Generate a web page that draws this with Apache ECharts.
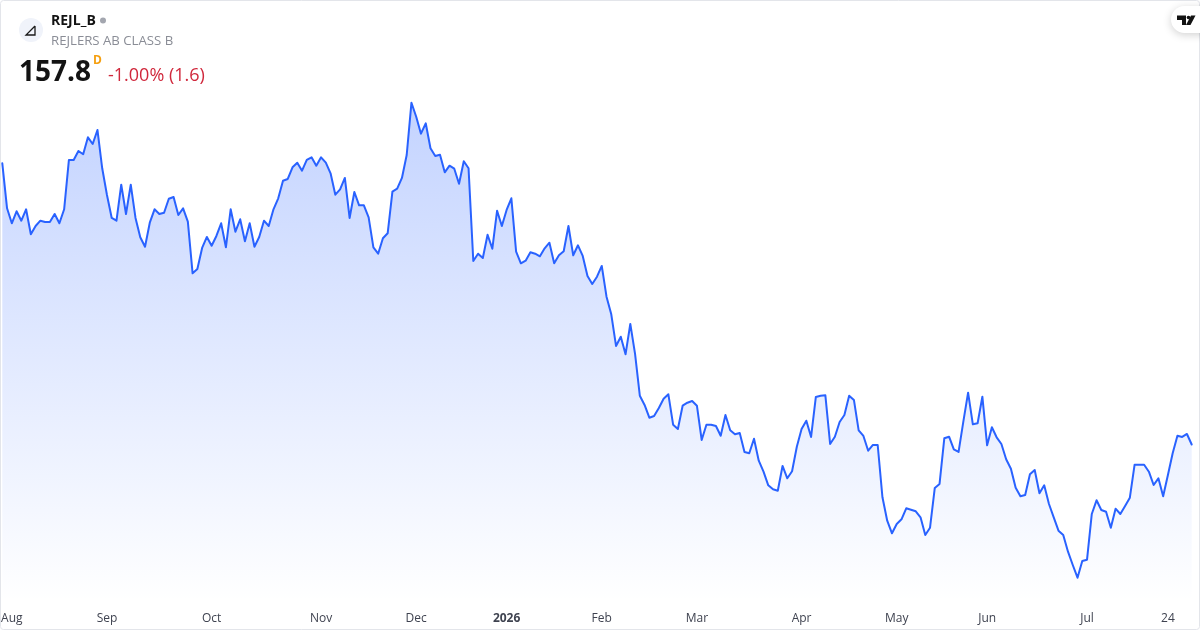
<!DOCTYPE html>
<html><head><meta charset="utf-8">
<style>
html,body{margin:0;padding:0;background:#fff;overflow:hidden}
#c{width:1200px;height:630px}
</style>
<script src="https://cdn.jsdelivr.net/npm/echarts@6/dist/echarts.min.js"></script>
</head><body><div id="c"></div>
<script>
const prices = [
199.98,193.23,190.98,192.78,191.37,193.08,189.33,190.58,191.37,191.18,191.18,192.38,190.98,193.08,200.48,200.48,
201.83,201.33,203.88,202.88,204.98,199.23,195.23,191.78,191.37,196.77,192.38,196.77,191.78,188.88,187.47,191.07,
193.08,192.38,192.57,194.67,194.93,192.23,193.23,191.22,183.48,184.13,187.28,188.93,187.62,189.08,190.98,187.38,
193.08,189.72,191.58,188.28,190.98,187.47,188.93,191.37,190.58,193.08,194.73,197.37,197.63,199.38,200.07,198.87,
200.48,200.88,199.62,200.88,200.07,198.48,195.27,196.08,197.78,191.78,195.68,193.68,193.68,191.88,187.38,186.42,
188.73,189.48,195.72,196.17,197.78,201.23,209.07,206.97,204.42,205.98,202.23,201.08,201.27,198.63,199.62,199.17,
196.92,200.28,199.23,185.33,186.42,185.78,189.27,187.17,192.87,190.58,192.98,194.73,186.72,184.98,185.37,186.63,
186.42,186.03,187.23,188.07,184.98,186.18,186.78,190.58,186.18,187.68,186.08,183.08,181.88,182.97,184.58,179.97,
177.33,172.58,173.97,171.33,175.88,171.38,165.12,163.73,161.82,162.08,163.28,164.67,165.33,160.77,160.13,163.62,
164.07,164.33,163.62,158.48,160.77,160.77,160.58,159.12,162.23,159.93,159.33,159.53,156.68,156.48,158.67,155.37,
153.72,151.68,151.08,150.87,154.58,152.73,153.78,157.47,160.13,161.37,158.93,164.93,165.12,165.18,157.88,158.97,
161.18,162.23,165.12,164.48,159.93,159.08,156.87,157.73,157.73,149.88,146.37,144.48,145.88,146.58,148.23,148.02,
147.78,146.88,144.23,145.32,151.28,151.88,158.73,158.97,157.08,156.68,161.22,165.57,160.83,160.98,164.97,157.68,
160.38,158.88,157.88,155.58,154.17,151.32,150.03,150.23,153.33,153.98,150.48,151.68,148.88,146.88,144.87,144.23,
141.72,139.73,137.82,140.33,140.52,147.38,149.43,147.98,147.72,145.32,148.17,147.38,148.58,149.82,154.77,154.77,
154.77,153.72,151.73,152.73,150.03,153.23,156.48,159.12,158.93,159.38,157.8
];
const tickLabels = ['Aug','Sep','Oct','Nov','Dec','2026','Feb','Mar','Apr','May','Jun','Jul','24'];
const tickIndex  = [2,22,44,67,87,106,126,146,168,188,207,228,245];
const categories = prices.map((_, i) => { const k = tickIndex.indexOf(i); return k >= 0 ? tickLabels[k] : ''; });

const font = '"Open Sans","Noto Sans",sans-serif';
const chart = echarts.init(document.getElementById('c'), null, {renderer:'canvas', width:1200, height:630});
chart.setOption({
  animation:false,
  backgroundColor:'#ffffff',
  grid:{left:2.3, right:8.3, top:0, height:602, containLabel:false, outerBoundsMode:'none'},
  xAxis:{
    type:'category', data:categories, boundaryGap:false,
    axisLine:{show:false}, axisTick:{show:false}, splitLine:{show:false},
    axisLabel:{
      interval:(i)=>tickIndex.indexOf(i)>=0,
      color:'#3f4350', fontFamily:font, fontSize:12, margin:11, hideOverlap:false,
      formatter:(v)=> v==='2026' ? '{b|2026}' : v,
      rich:{b:{fontFamily:font,fontSize:12,fontWeight:700,color:'#3f4350'}}
    }
  },
  yAxis:{type:'value', show:false, min:134.175, max:224.475, splitLine:{show:false}},
  series:[{
    type:'line', data:prices, symbol:'none', sampling:null,
    lineStyle:{color:'#2962ff', width:2, join:'round', cap:'round'},
    areaStyle:{origin:'start', opacity:1, color:{type:'linear',x:0,y:0,x2:0,y2:1,colorStops:[
      {offset:0,color:'rgba(41,98,255,0.28)'},{offset:1,color:'rgba(41,98,255,0)'}]}}
  }],
  graphic:[
    {type:'rect',silent:true,z:20,shape:{x:0.5,y:0.5,width:1199,height:629,r:3},style:{fill:'none',stroke:'#e3e5ea',lineWidth:1}},
    {type:'circle',z:21,shape:{cx:31,cy:30,r:12},style:{fill:'#f0f3fa'}},
    {type:'polyline',z:22,shape:{points:[[35,26],[35,35],[26,35],[35,26]]},style:{fill:'none',stroke:'#1a1a1a',lineWidth:1.3}},
    {type:'text',z:21,style:{x:51,y:14,text:'REJL_B',fill:'#131313',font:'700 14px '+font}},
    {type:'circle',z:21,shape:{cx:103,cy:20.5,r:3},style:{fill:'#a3a6af'}},
    {type:'text',z:21,style:{x:51,y:35,text:'REJLERS AB CLASS B',fill:'#8a8d96',font:'400 13.2px '+font}},
    {type:'text',z:21,style:{x:19,y:59,text:'157.8',fill:'#131313',font:'700 28px '+font}},
    {type:'text',z:21,style:{x:93,y:55,text:'D',fill:'#f59f0f',font:'700 12px '+font}},
    {type:'text',z:21,style:{x:108,y:67,text:'-1.00% (1.6)',fill:'#d0283c',font:'400 18px '+font}},
    {type:'rect',z:21,shape:{x:1171,y:6,width:60,height:27,r:13.5},style:{fill:'#ffffff',shadowBlur:8,shadowColor:'rgba(0,0,0,0.18)',shadowOffsetY:2}},
    {type:'polygon',z:22,shape:{points:[[1177,15.5],[1186,15.5],[1186,25],[1182,25],[1182,20],[1177,20]]},style:{fill:'#131313'}},
    {type:'circle',z:22,shape:{cx:1188.5,cy:17.5,r:1.8},style:{fill:'#131313'}},
    {type:'polygon',z:22,shape:{points:[[1191,15.5],[1195.5,15.5],[1190.5,25],[1186,25]]},style:{fill:'#131313'}}
  ]
});
</script></body></html>
